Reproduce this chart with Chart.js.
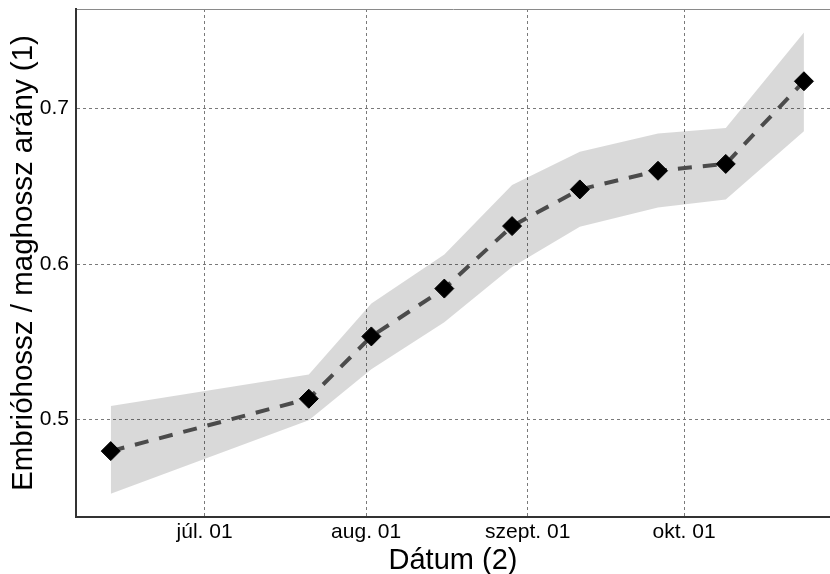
<!DOCTYPE html>
<html>
<head>
<meta charset="utf-8">
<script src="https://cdn.jsdelivr.net/npm/chart.js@4"></script>
<style>
  html, body { margin: 0; padding: 0; background: #ffffff; }
  #chart { display: block; }
</style>
</head>
<body>
<canvas id="chart" width="830" height="574"></canvas>
<script>
// Sampling dates and ratio values
const sampleDates = ['2020-06-13', '2020-07-21', '2020-08-02', '2020-08-16', '2020-08-29', '2020-09-11', '2020-09-26', '2020-10-09', '2020-10-24'];
const meanRatio  = [0.4796, 0.5133, 0.5534, 0.5842, 0.6244, 0.6480, 0.6600, 0.6644, 0.7176];
const upperRatio = [0.5086, 0.5289, 0.5746, 0.6061, 0.6508, 0.6722, 0.6840, 0.6876, 0.7489];
const lowerRatio = [0.4522, 0.4995, 0.5322, 0.5626, 0.5980, 0.6240, 0.6364, 0.6415, 0.6855];

// Axis ticks
const xTickDates  = ['2020-07-01', '2020-08-01', '2020-09-01', '2020-10-01'];
const xTickLabels = ['júl. 01', 'aug. 01', 'szept. 01', 'okt. 01'];
const yTicks = [0.5, 0.6, 0.7];

// Axis ranges
const xStart = '2020-06-06T08:00:00Z';
const xEnd = '2020-10-29T00:00:00Z';
const yMin = 0.4372;
const yMax = 0.7641;

const toPoints = values => sampleDates.map((d, i) => ({ x: Date.parse(d), y: values[i] }));

const FONT = 'Liberation Sans, Arial, sans-serif';

// keep the plot area flush with the fixed axis sizes
function noPadding(axis) {
    axis.paddingLeft = 0;
    axis.paddingRight = 0;
    axis.paddingTop = 0;
    axis.paddingBottom = 0;
}

new Chart(document.getElementById('chart').getContext('2d'), {
    type: 'line',
    data: {
        datasets: [
            {
                label: 'lower',
                data: toPoints(lowerRatio),
                borderWidth: 0,
                pointRadius: 0,
                fill: false,
                tension: 0
            },
            {
                label: 'upper',
                data: toPoints(upperRatio),
                borderWidth: 0,
                pointRadius: 0,
                backgroundColor: 'rgba(0, 0, 0, 0.15)',
                fill: '-1',
                tension: 0
            },
            {
                label: 'mean',
                data: toPoints(meanRatio),
                borderColor: '#595959',
                borderWidth: 4,
                borderDash: [14, 11],
                pointStyle: 'rectRot',
                pointRadius: 9.5,
                pointBackgroundColor: '#000000',
                pointBorderColor: '#000000',
                pointBorderWidth: 1,
                fill: false,
                tension: 0
            }
        ]
    },
    options: {
        responsive: false,
        animation: false,
        layout: { padding: 0, autoPadding: false },
        plugins: {
            legend: { display: false },
            tooltip: { enabled: false }
        },
        scales: {
            x: {
                type: 'linear',
                position: 'bottom',
                min: Date.parse(xStart),
                max: Date.parse(xEnd),
                afterBuildTicks: axis => {
                    axis.ticks = xTickDates.map(d => ({ value: Date.parse(d) }));
                },
                afterFit: axis => { axis.height = 57; noPadding(axis); },
                ticks: {
                    callback: (value, index) => xTickLabels[index],
                    color: '#000000',
                    font: { family: FONT, size: 21 },
                    padding: 3,
                    maxRotation: 0,
                    autoSkip: false
                },
                grid: { color: '#7a7a7a', lineWidth: 1, drawTicks: false },
                border: { display: true, color: '#333333', width: 2, dash: [3, 3] },
                title: {
                    display: true,
                    text: 'Dátum (2)',
                    color: '#000000',
                    font: { family: FONT, size: 29, lineHeight: 1 },
                    padding: { top: 0, bottom: -1 }
                }
            },
            x2: {
                type: 'linear',
                position: 'top',
                afterFit: axis => { axis.height = 9; noPadding(axis); },
                ticks: { display: false },
                grid: { display: false, drawTicks: false },
                border: { display: true, color: '#8a8a8a', width: 1 }
            },
            y: {
                type: 'linear',
                min: yMin,
                max: yMax,
                afterBuildTicks: axis => {
                    axis.ticks = yTicks.map(v => ({ value: v }));
                },
                afterFit: axis => { axis.width = 76; noPadding(axis); },
                ticks: {
                    callback: value => value.toFixed(1),
                    color: '#000000',
                    font: { family: FONT, size: 21 },
                    padding: 7
                },
                grid: { color: '#7a7a7a', lineWidth: 1, drawTicks: false },
                border: { display: true, color: '#333333', width: 2, dash: [3, 3] },
                title: {
                    display: true,
                    text: 'Embrióhossz / maghossz arány (1)',
                    color: '#000000',
                    font: { family: FONT, size: 29.5, lineHeight: 1.2 },
                    padding: { top: 6, bottom: 0 }
                }
            }
        }
    }
});
</script>
</body>
</html>
